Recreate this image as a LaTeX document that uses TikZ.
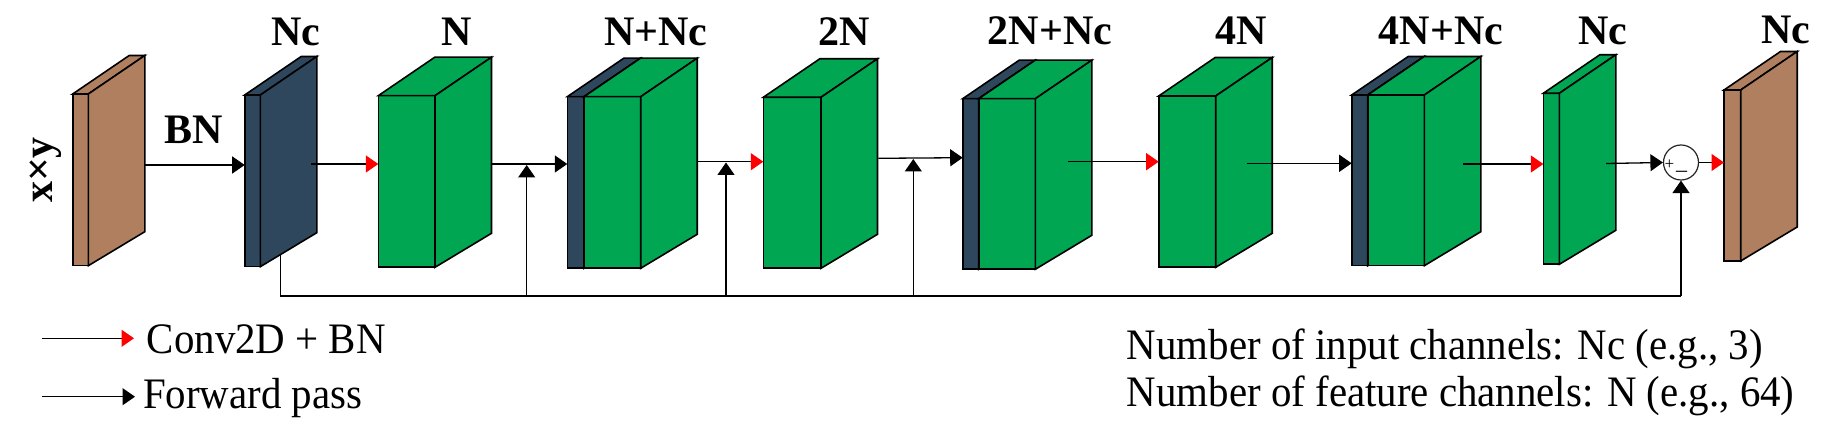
\documentclass[tikz,border=0pt]{standalone}
\usepackage{fontspec}
\setmainfont{Liberation Serif}
\usetikzlibrary{arrows.meta}
\definecolor{cgreen}{RGB}{0,166,81}
\definecolor{cdark}{RGB}{46,71,92}
\definecolor{cbrown}{RGB}{176,127,96}
\newcommand\layerbox[5]{%
  \filldraw[blk,fill=#5] (#1,#3) rectangle (#2,#4);
  \filldraw[blk,fill=#5] (#1,#3) -- (#1+56.5,#3-38.5) -- (#2+56.5,#3-38.5) -- (#2,#3) -- cycle;
  \filldraw[blk,fill=#5] (#2,#3) -- (#2+56.5,#3-38.5) -- (#2+56.5,#4-34) -- (#2,#4) -- cycle;
}
\begin{document}
\begin{tikzpicture}[x=1pt,y=-1pt,
  blk/.style={draw=black,line width=1.6pt,line join=miter},
  conn/.style={draw=black,line width=1.3pt},
  fwd/.style={conn,-{Triangle[length=12.5pt,width=17pt]}},
  conv/.style={conn,-{Triangle[length=12.5pt,width=17pt,red]}},
  lbl/.style={font=\fontsize{42}{44}\selectfont\bfseries,inner sep=0pt,anchor=base},
  leg/.style={font=\fontsize{43.5}{46}\selectfont,inner sep=0pt,anchor=base west},
  sgn/.style={inner sep=0pt,anchor=base}]
\useasboundingbox (0,0) rectangle (1848,438);

% blocks
\layerbox{72.7}{88.3}{94}{265.7}{cbrown}
\layerbox{244.7}{260.3}{95}{266.7}{cdark}
\layerbox{378.3}{435}{95.7}{267.3}{cgreen}
\layerbox{567.3}{584}{96.7}{268.3}{cdark}
\layerbox{584}{640.7}{96.7}{268.3}{cgreen}
\layerbox{763.3}{821}{97.3}{268.3}{cgreen}
\layerbox{962.7}{978.7}{98.7}{269.3}{cdark}
\layerbox{978.7}{1035.3}{98.7}{269.3}{cgreen}
\layerbox{1158.7}{1215.7}{96}{267.3}{cgreen}
\layerbox{1351.7}{1367.7}{95}{265.7}{cdark}
\layerbox{1367.7}{1424.3}{95}{265.7}{cgreen}
\layerbox{1543.3}{1559.3}{93.3}{264.3}{cgreen}
\layerbox{1724}{1740.7}{90}{261}{cbrown}

% labels
\node[lbl] (tNc1) at (296,46) {Nc};
\node[lbl] (tN) at (457,46) {N};
\node[lbl] (tNNc) at (655.7,46) {N+Nc};
\node[lbl] (t2N) at (844,46) {2N};
\node[lbl] (t2NNc) at (1050,45) {2N+Nc};
\node[lbl] (t4N) at (1241,44.5) {4N};
\node[lbl] (t4NNc) at (1441,45) {4N+Nc};
\node[lbl] (tNc2) at (1603,45) {Nc};
\node[lbl] (tNc3) at (1785.5,43.5) {Nc};
\node[lbl] (tBN) at (194,144) {BN};
\node[lbl,rotate=90] (txy) at (52.7,170) {x×y};

% sum node
\node[circle,draw=black!85,fill=white,line width=1.2pt,minimum size=35pt,inner sep=0pt] (sum) at (1681,162.5) {};
\node[sgn,font=\fontsize{17}{17}\selectfont] (plus) at (1669.3,169.5) {+};
\node[sgn,font=\fontsize{22}{22}\selectfont] (minus) at (1681.7,170) {\_};

% connector coordinates
\coordinate (c1a) at (144,165);     \coordinate (c1b) at (244.7,165);
\coordinate (c2a) at (311,164);     \coordinate (c2b) at (378.3,164);
\coordinate (c3a) at (491.7,164);   \coordinate (c3b) at (567.3,164);
\coordinate (c4a) at (698,161.7);   \coordinate (c4b) at (763.3,161.7);
\coordinate (c5a) at (878.3,158.3); \coordinate (c5b) at (962.7,157.7);
\coordinate (c6a) at (1068.3,161.7);\coordinate (c6b) at (1158.7,161.7);
\coordinate (c7a) at (1246.7,163.3);\coordinate (c7b) at (1351.7,163.3);
\coordinate (c8a) at (1463.3,164);  \coordinate (c8b) at (1543.3,164);
\coordinate (c9a) at (1606,163.5);
\coordinate (c10b) at (1724,162.5);

\draw[fwd] (c1a) -- (c1b);
\draw[conv] (c2a) -- (c2b);
\draw[fwd] (c3a) -- (c3b);
\draw[conv] (c4a) -- (c4b);
\draw[fwd] (c5a) -- (c5b);
\draw[conv] (c6a) -- (c6b);
\draw[fwd] (c7a) -- (c7b);
\draw[conv] (c8a) -- (c8b);
\draw[fwd] (c9a) -- (sum.west);
\draw[conv] (sum.east) -- (c10b);

% skip connections
\coordinate (s0) at (280.7,254.5);
\coordinate (s1) at (280.7,296);
\coordinate (u1) at (526.7,296);  \coordinate (u1t) at (526.7,165);
\coordinate (u2) at (726,296);    \coordinate (u2t) at (726,162.5);
\coordinate (u3) at (913.3,296);  \coordinate (u3t) at (913.3,159);
\coordinate (u4) at (1681,296);
\draw[conn] (s0) -- (s1) -- (u4);
\draw[fwd] (u1) -- (u1t);
\draw[fwd] (u2) -- (u2t);
\draw[fwd] (u3) -- (u3t);
\draw[fwd] (u4) -- (sum.south);

% legend
\coordinate (l1a) at (41.7,338.3); \coordinate (l1b) at (134,338.3);
\coordinate (l2a) at (41.7,396.7); \coordinate (l2b) at (135,396.7);
\draw[conv] (l1a) -- (l1b);
\draw[fwd] (l2a) -- (l2b);
\node[leg] (lg1) at (146.7,353.3) {\scalebox{0.94}[1]{Conv2D + BN}};
\node[leg] (lg2) at (143,408.3) {\scalebox{0.94}[1]{Forward pass}};
\node[leg] (lg3) at (1126.7,359.3) {\scalebox{0.94}[1]{Number of input channels: Nc (e.g., 3)}};
\node[leg] (lg4) at (1126.7,406.7) {\scalebox{0.94}[1]{Number of feature channels: N (e.g., 64)}};
\end{tikzpicture}
\end{document}
